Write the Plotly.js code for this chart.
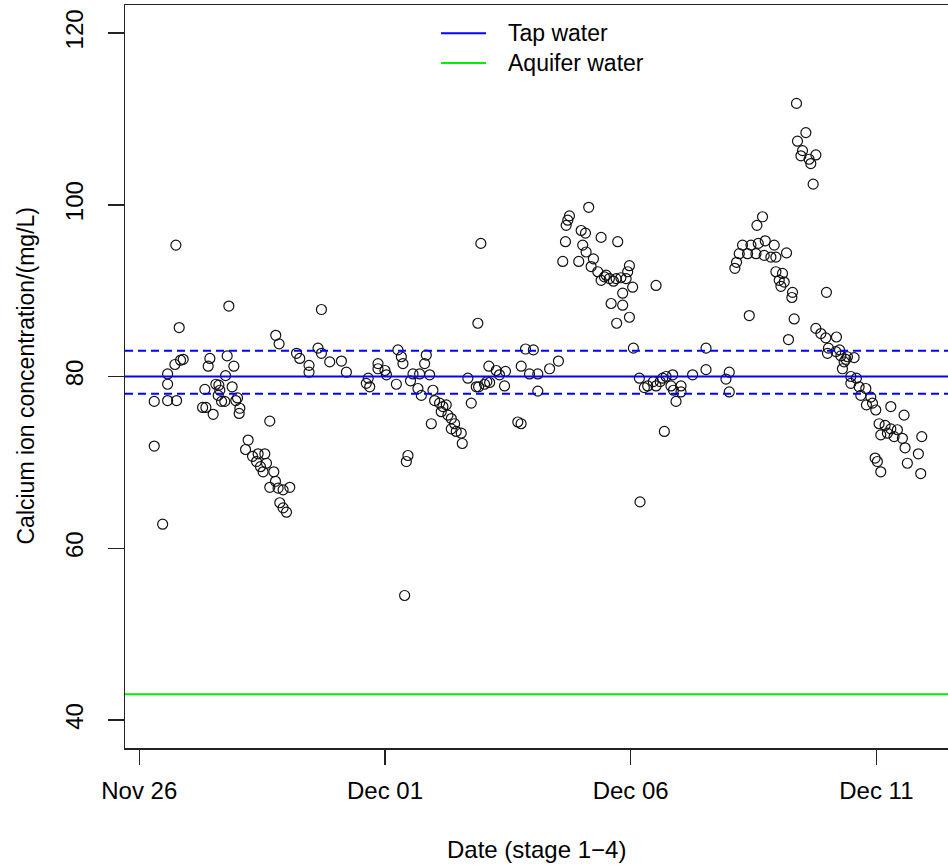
<!DOCTYPE html>
<html>
<head>
<meta charset="utf-8">
<script src="https://cdn.plot.ly/plotly-3.0.1.min.js"></script>
<style>html,body{margin:0;padding:0;background:#fff;}#chart{width:948px;height:867px;}</style>
</head>
<body>
<div id="chart"></div>
<script>
// Days since Nov 26 00:00 (sample time) and calcium concentration (mg/L)
const dayOffsets = [
  // Nov 26
  0.305,0.305,0.476,0.577,0.577,0.577,0.726,0.760,0.746,0.813,0.840,0.894,
  // Nov 27
  1.289,1.356,1.335,1.403,1.437,1.504,1.559,1.606,1.640,1.675,1.756,1.789,1.823,1.890,1.925,1.965,2.033,2.047,1.740,1.620,2.000,
  // Nov 28
  2.216,2.163,2.305,2.419,2.555,2.386,2.467,2.589,2.520,2.738,2.772,2.656,2.825,2.927,3.063,2.860,2.927,2.996,2.656,
  // Nov 28-30
  2.778,2.846,3.200,3.266,3.455,3.455,3.707,3.638,3.707,3.876,4.114,4.215,
  // Dec 01-02
  4.620,4.690,4.660,4.858,4.858,5.000,5.030,5.232,5.264,5.333,5.366,5.468,5.435,5.400,5.570,5.520,5.705,5.841,5.807,5.909,5.671,5.740,5.976,6.010,6.111,6.179,6.247,6.145,6.281,6.350,6.417,6.350,6.450,6.552,6.573,5.943,6.756,6.687,6.858,
  // Dec 02-04
  6.951,6.890,7.114,7.264,7.453,7.330,7.026,7.130,7.433,7.772,7.941,8.110,8.110,7.860,8.020,8.350,8.530,7.703,7.770,7.073,6.905,
  // Dec 04-06 peak
  9.146,8.754,8.720,8.687,8.992,9.080,9.398,9.736,8.673,9.024,9.093,8.618,8.943,9.242,9.195,9.330,9.466,9.567,9.703,9.398,9.974,9.939,10.040,9.907,9.837,9.602,9.837,9.974,9.715,10.516,9.500,9.650,9.800,
  // Dec 06-08
  10.055,10.177,10.278,10.346,10.516,10.650,10.720,10.854,10.820,11.024,11.024,10.923,11.260,11.533,11.533,12.006,11.939,12.006,10.685,12.413,10.190,10.460,10.600,10.870,
  // Dec 08-10 peak
  13.374,13.565,13.394,13.496,13.464,13.768,13.630,13.665,13.713,12.683,12.569,12.276,12.447,12.596,12.738,12.921,12.209,12.378,12.549,12.717,12.853,12.955,12.154,12.120,13.171,12.955,13.089,13.022,13.124,13.057,13.293,13.280,13.327,13.211,13.984,
  // Dec 10-12
  13.768,13.870,13.971,14.187,14.024,14.004,14.175,14.277,14.411,14.547,14.343,14.309,14.480,14.593,14.480,14.648,14.785,14.683,14.886,14.797,14.988,14.920,15.293,15.563,15.055,15.177,15.293,15.089,15.224,15.360,15.427,15.529,15.583,15.923,15.854,15.630,15.902,14.974,15.020,15.089,14.380,14.250
];
const calcium = [
  77.1,71.9,62.8,80.3,79.1,77.2,81.4,77.2,95.3,85.7,81.9,82.0,
  76.4,76.4,78.5,81.2,82.1,75.6,79.1,77.8,78.4,77.1,80.1,82.4,88.2,78.8,81.2,77.2,75.7,76.3,77.1,79.0,77.5,
  72.6,71.5,70.7,71.0,71.0,70.1,69.5,69.9,68.9,68.9,67.8,67.1,67.0,66.8,67.1,65.3,64.7,64.2,74.8,
  84.8,83.8,82.7,82.1,81.3,80.5,87.8,83.3,82.7,81.7,81.8,80.5,
  79.2,78.8,79.8,81.5,80.9,80.7,80.2,79.1,83.1,82.3,81.5,70.8,70.1,54.5,80.3,79.5,80.3,82.5,81.5,80.2,78.6,77.8,78.4,77.2,76.9,76.5,76.7,75.9,75.5,75.1,74.5,73.9,73.6,73.4,72.2,74.5,76.9,79.8,78.8,
  95.5,86.2,81.2,80.7,80.6,80.2,79.1,79.3,78.9,81.2,80.3,80.3,78.3,83.2,83.1,80.9,81.8,74.7,74.5,79.4,78.8,
  99.7,98.7,98.2,97.6,97.0,96.7,96.2,95.7,95.7,95.3,94.5,93.4,93.4,93.7,92.8,92.2,91.6,91.4,91.4,91.2,92.9,92.2,90.4,91.4,89.7,88.5,88.3,86.9,86.2,90.6,91.8,91.1,91.5,
  83.3,79.8,78.7,78.9,78.9,79.8,80.0,80.2,78.9,78.9,78.2,77.1,80.2,83.3,80.8,80.5,79.7,78.2,73.6,87.1,65.4,79.4,79.4,78.4,
  111.8,108.4,107.4,106.3,105.7,105.8,105.3,104.8,102.4,98.6,97.6,95.3,95.3,95.5,95.8,95.3,94.3,94.3,94.3,94.1,93.9,93.9,93.3,92.6,94.4,92.2,92.0,91.2,91.0,90.5,89.8,89.2,86.7,84.3,89.8,
  85.6,85.0,84.5,84.6,83.3,82.7,82.9,82.4,82.3,82.2,81.7,80.9,80.0,79.8,79.2,78.8,78.6,77.8,77.6,76.7,76.1,76.9,76.5,75.5,74.5,74.3,73.9,73.2,73.4,73.0,73.8,72.8,71.7,73.0,71.0,69.9,68.7,70.5,70.1,68.9,82.0,83.1
];
const tapWater = 80;
const tapUpper = 83;
const tapLower = 78;
const aquiferWater = 43;
const tickDates = ['2015-11-26','2015-12-01','2015-12-06','2015-12-11'];
const tickLabels = ['Nov 26','Dec 01','Dec 06','Dec 11'];

const DAY = 86400000;
const baseDate = Date.UTC(2015, 10, 26);
const xs = dayOffsets.map(d => baseDate + d * DAY);
const xStart = baseDate - 0.29 * DAY;
const xEnd = baseDate + 16.457 * DAY;

const font = 'Liberation Sans, Arial, Helvetica, sans-serif';
const blue = '#0000ff', green = '#00ee00';
const ink = '#000';

const traces = [
  {type:'scatter', mode:'markers', x: xs, y: calcium, showlegend:false,
   marker:{symbol:'circle-open', size:10, color:'#111', line:{width:1.2, color:'#111'}}},
  {type:'scatter', mode:'lines', x:[xStart,xEnd], y:[tapWater,tapWater], name:'Tap water', line:{color:blue, width:2}, showlegend:false},
  {type:'scatter', mode:'lines', x:[xStart,xEnd], y:[tapUpper,tapUpper], line:{color:blue, width:2, dash:'8px,5px'}, showlegend:false},
  {type:'scatter', mode:'lines', x:[xStart,xEnd], y:[tapLower,tapLower], line:{color:blue, width:2, dash:'8px,5px'}, showlegend:false},
  {type:'scatter', mode:'lines', x:[xStart,xEnd], y:[aquiferWater,aquiferWater], name:'Aquifer water', line:{color:green, width:2}, showlegend:false}
];

const layout = {
  width: 948, height: 867,
  margin: {l:125, r:0, t:5, b:119, pad:0},
  paper_bgcolor:'#fff', plot_bgcolor:'#fff',
  font: {family: font, size: 24, color:ink},
  showlegend: false,
  xaxis: {
    type:'date', range:[xStart, xEnd], showgrid:false, zeroline:false,
    showline:true, mirror:true, linecolor:'#222', linewidth:1.5,
    ticks:'outside', ticklen:15, tickwidth:1.5, tickcolor:'#222',
    tickvals: tickDates, ticktext: tickLabels,
    tickfont:{family:font, size:24, color:ink}, ticklabelstandoff: 6
  },
  yaxis: {
    range:[36.74, 123.26], showgrid:false, zeroline:false,
    showline:true, linecolor:'#222', linewidth:1.5,
    ticks:'outside', ticklen:16, tickwidth:1.5, tickcolor:'#222',
    tickvals:[40,60,80,100,120], tickangle:-90,
    tickfont:{family:font, size:24, color:ink}, ticklabelstandoff: 15
  },
  shapes: [
    {type:'line', xref:'paper', yref:'paper', x0:0.384, x1:0.4386, y0:0.962, y1:0.962, line:{color:blue, width:2}},
    {type:'line', xref:'paper', yref:'paper', x0:0.384, x1:0.4386, y0:0.922, y1:0.922, line:{color:green, width:2}}
  ],
  annotations: [
    {xref:'paper', yref:'paper', x:0.463, y:0.962, xanchor:'left', yanchor:'middle', text:'Tap water', showarrow:false, font:{family:font, size:23, color:ink}},
    {xref:'paper', yref:'paper', x:0.463, y:0.922, xanchor:'left', yanchor:'middle', text:'Aquifer water', showarrow:false, font:{family:font, size:23, color:ink}},
    {xref:'paper', yref:'paper', x:0.5, y:-0.136, xanchor:'center', yanchor:'middle', text:'Date (stage 1\u22124)', showarrow:false, font:{family:font, size:24, color:ink}},
    {xref:'paper', yref:'paper', x:-0.1215, y:0.5, xanchor:'center', yanchor:'middle', textangle:-90, text:'Calcium ion concentration/(mg/L)', showarrow:false, font:{family:font, size:23, color:ink}}
  ]
};

Plotly.newPlot('chart', traces, layout, {displayModeBar:false, staticPlot:true});
</script>
</body>
</html>
